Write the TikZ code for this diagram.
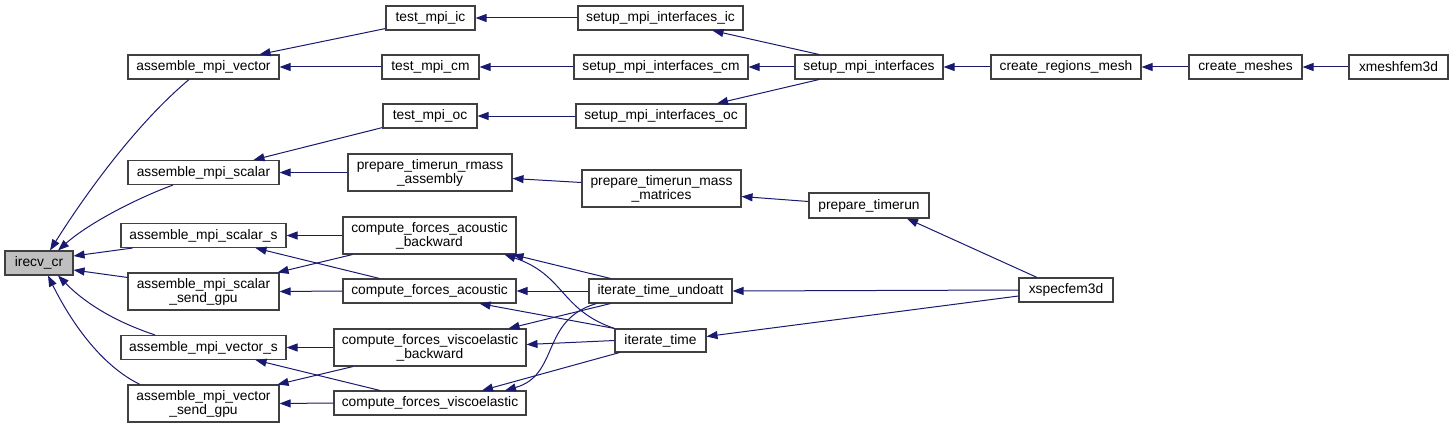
\documentclass[tikz,border=0pt]{standalone}
\usepackage{fontspec}
\setmainfont{Liberation Sans}
\usetikzlibrary{arrows.meta,calc}
\definecolor{edgeblue}{HTML}{191970}
\definecolor{boxgray}{HTML}{404040}
\definecolor{fillgray}{HTML}{BFBFBF}
\begin{document}
\begin{tikzpicture}[x=1pt,y=-1pt,
  fn/.style={draw=boxgray,line width=1.1pt,fill=white,rectangle,inner sep=0pt,align=center,
    font=\fontsize{13.8}{14}\selectfont},
  cur/.style={fn,fill=fillgray},
  call/.style={draw=edgeblue,line width=1pt,-{Triangle[length=11pt,width=8pt]},fill=none}]
\useasboundingbox (0,0) rectangle (1453,428);
% nodes
\node[cur,minimum width=68,minimum height=24] (irecv) at (39,263) {irecv\_cr};
\node[fn,minimum width=151,minimum height=24] (amv) at (203.5,67) {assemble\_mpi\_vector};
\node[fn,minimum width=151,minimum height=24] (ams) at (203.5,172.5) {assemble\_mpi\_scalar};
\node[fn,minimum width=165,minimum height=24] (amss) at (203.5,235.5) {assemble\_mpi\_scalar\_s};
\node[fn,minimum width=151,minimum height=37] (amssg) at (203.5,291.5) {assemble\_mpi\_scalar\\\_send\_gpu};
\node[fn,minimum width=165,minimum height=24] (amvs) at (203.5,347.5) {assemble\_mpi\_vector\_s};
\node[fn,minimum width=151,minimum height=37] (amvsg) at (203.5,403.5) {assemble\_mpi\_vector\\\_send\_gpu};
\node[fn,minimum width=89,minimum height=24] (tic) at (430.5,18) {test\_mpi\_ic};
\node[fn,minimum width=97,minimum height=24] (tcm) at (430.5,67) {test\_mpi\_cm};
\node[fn,minimum width=94,minimum height=24] (toc) at (430,116) {test\_mpi\_oc};
\node[fn,minimum width=164,minimum height=37] (ptra) at (430,172.5) {prepare\_timerun\_rmass\\\_assembly};
\node[fn,minimum width=173,minimum height=37] (cfab) at (429.5,235.5) {compute\_forces\_acoustic\\\_backward};
\node[fn,minimum width=173,minimum height=24] (cfa) at (429.5,291) {compute\_forces\_acoustic};
\node[fn,minimum width=192,minimum height=37] (cfvb) at (430,347.5) {compute\_forces\_viscoelastic\\\_backward};
\node[fn,minimum width=192,minimum height=24] (cfv) at (430,403) {compute\_forces\_viscoelastic};
\node[fn,minimum width=165,minimum height=24] (sic) at (660.5,18) {setup\_mpi\_interfaces\_ic};
\node[fn,minimum width=174,minimum height=24] (scm) at (661,67) {setup\_mpi\_interfaces\_cm};
\node[fn,minimum width=170,minimum height=24] (soc) at (661,116) {setup\_mpi\_interfaces\_oc};
\node[fn,minimum width=159,minimum height=37] (ptmm) at (661.5,188.5) {prepare\_timerun\_mass\\\_matrices};
\node[fn,minimum width=143,minimum height=24] (undo) at (660.5,291) {iterate\_time\_undoatt};
\node[fn,minimum width=91,minimum height=23] (it) at (660.5,340.5) {iterate\_time};
\node[fn,minimum width=148,minimum height=24] (smi) at (869,67) {setup\_mpi\_interfaces};
\node[fn,minimum width=120,minimum height=25] (ptr) at (869,205.5) {prepare\_timerun};
\node[fn,minimum width=150,minimum height=24] (crm) at (1066,67) {create\_regions\_mesh};
\node[fn,minimum width=94,minimum height=24] (xspec) at (1066,290) {xspecfem3d};
\node[fn,minimum width=113,minimum height=24] (cm) at (1245.5,67) {create\_meshes};
\node[fn,minimum width=99,minimum height=24] (xmesh) at (1398.5,67) {xmeshfem3d};
% edges into irecv_cr
\draw[call] ($(amv.south)+(-14.5,0)$) .. controls (135,125) and (85,195) .. ($(irecv.north)+(11,0)$);
\draw[call] ($(ams.south)+(-30.5,0)$) .. controls (140,197) and (90,222) .. ($(irecv.north)+(19,0)$);
\draw[call] ($(amss.south west)+(12,0)$) -- ($(irecv.east)+(0,-7)$);
\draw[call] ($(amssg.north west)+(0,5)$) -- ($(irecv.east)+(0,7)$);
\draw[call] ($(amvs.north)+(-48.5,0)$) .. controls (110,320) and (82,300) .. ($(irecv.south)+(19,0)$);
\draw[call] ($(amvsg.north)+(-63.5,0)$) .. controls (100,365) and (70,320) .. ($(irecv.south)+(9,0)$);
% column 2 -> column 1
\draw[call] ($(tic.south west)+(0,-2)$) -- ($(amv.north)+(56,0)$);
\draw[call] (tcm.west) -- (amv.east);
\draw[call] ($(toc.south west)+(0,-1)$) -- ($(ams.north)+(50,0)$);
\draw[call] (ptra.west) -- (ams.east);
\draw[call] (cfab.west) -- (amss.east);
\draw[call] ($(cfa.north)+(-50,0)$) -- ($(amss.south)+(52,0)$);
\draw[call] ($(cfab.south)+(-77,0)$) -- ($(amssg.north east)+(-2,0)$);
\draw[call] (cfa.west) -- (amssg.east);
\draw[call] (cfvb.west) -- (amvs.east);
\draw[call] ($(cfv.north)+(-50,0)$) -- ($(amvs.south)+(52,0)$);
\draw[call] ($(cfvb.south)+(-77,0)$) -- ($(amvsg.north east)+(-2,0)$);
\draw[call] (cfv.west) -- (amvsg.east);
% column 3 -> column 2
\draw[call] (sic.west) -- (tic.east);
\draw[call] (scm.west) -- (tcm.east);
\draw[call] (soc.west) -- (toc.east);
\draw[call] ($(ptmm.west)+(0,-6)$) -- ($(ptra.east)+(0,6)$);
\draw[call] ($(undo.north)+(-50,0)$) -- ($(cfab.south east)+(-4,0)$);
\draw[call] (it.north west) .. controls (560,310) and (565,275) .. ($(cfab.south east)+(-12,0)$);
\draw[call] (undo.west) -- (cfa.east);
\draw[call] (it.north west) -- ($(cfa.south)+(50,0)$);
\draw[call] ($(undo.south)+(-50,0)$) -- ($(cfvb.north east)+(-18,0)$);
\draw[call] (it.west) -- ($(cfvb.east)+(0,-3)$);
\draw[call] ($(undo.south west)+(8,0)$) .. controls (540,320) and (560,375) .. ($(cfv.north)+(75,0)$);
\draw[call] ($(it.south west)+(5,0)$) -- ($(cfv.north)+(52,0)$);
% right part
\draw[call] ($(smi.north)+(-50,0)$) -- ($(sic.south)+(52,0)$);
\draw[call] (smi.west) -- (scm.east);
\draw[call] ($(smi.south)+(-50,0)$) -- ($(soc.north)+(56,0)$);
\draw[call] (crm.west) -- (smi.east);
\draw[call] (cm.west) -- (crm.east);
\draw[call] (xmesh.west) -- (cm.east);
\draw[call] ($(ptr.west)+(0,-4)$) -- ($(ptmm.east)+(0,8)$);
\draw[call] ($(xspec.north)+(-29,0)$) -- ($(ptr.south)+(38,0)$);
\draw[call] (xspec.west) -- (undo.east);
\draw[call] ($(xspec.west)+(0,6)$) -- ($(it.east)+(0,-4)$);
\end{tikzpicture}
\end{document}
